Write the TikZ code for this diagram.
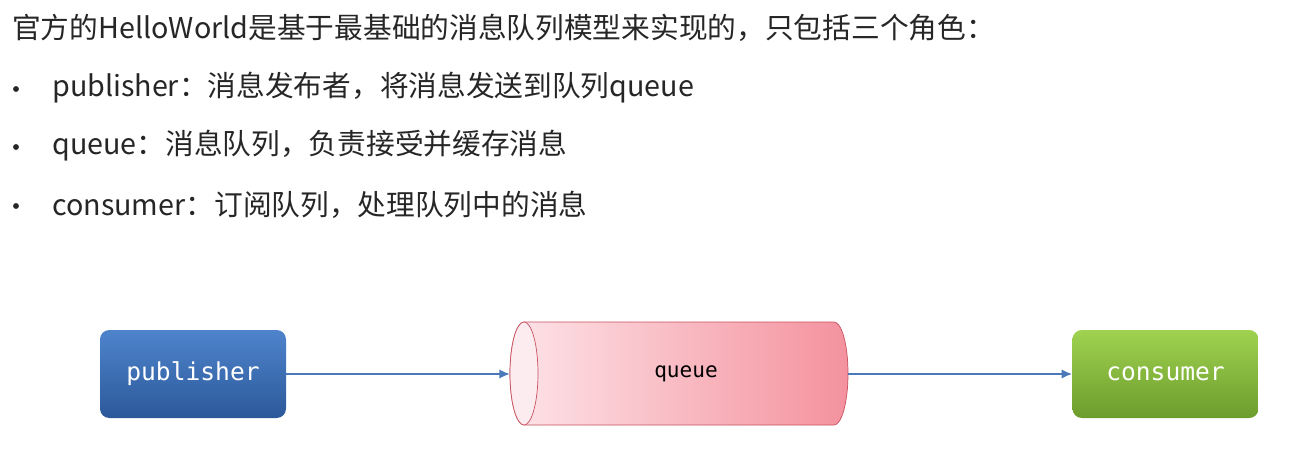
\documentclass[tikz,border=0pt]{standalone}
\usepackage{fontspec}
\setmainfont{Noto Sans CJK SC}
\newfontfamily\monof{DejaVu Sans Mono}
\begin{document}
\begin{tikzpicture}[x=0.03cm,y=-0.03cm,
  txt/.style={anchor=west,inner sep=0,font=\fontsize{24.5}{28}\selectfont,text=black!85},
  dot/.style={circle,fill=black!85,inner sep=0,minimum size=5pt},
  boxs/.style={rounded corners=8pt,minimum width=186*0.03cm,minimum height=88*0.03cm,text=white,font=\monof\fontsize{21}{24}\selectfont},
  arr/.style={draw={rgb,255:red,74;green,120;blue,184},line width=2pt,-{Latex[length=9pt,width=8pt]}}]
\usetikzlibrary{arrows.meta}
\useasboundingbox (0,0) rectangle (1289,450);
\fill[white] (0,0) rectangle (1289,450);
\node[txt] (t) at (12,28) {官方的HelloWorld是基于最基础的消息队列模型来实现的，只包括三个角色：};
\node[dot] (b1d) at (16,89) {};
\node[txt] (b1) at (52,88) {publisher：消息发布者，将消息发送到队列queue};
\node[dot] (b2d) at (16,147) {};
\node[txt] (b2) at (52,146) {queue：消息队列，负责接受并缓存消息};
\node[dot] (b3d) at (16,206) {};
\node[txt] (b3) at (52,205) {consumer：订阅队列，处理队列中的消息};
\node[boxs,top color={rgb,255:red,78;green,132;blue,204},bottom color={rgb,255:red,44;green,88;blue,154}] (pub) at (193,374) {publisher};
\node[boxs,top color={rgb,255:red,160;green,210;blue,80},bottom color={rgb,255:red,108;green,156;blue,44}] (con) at (1165.5,374) {consumer};
\path[left color={rgb,255:red,253;green,228;blue,232},right color={rgb,255:red,244;green,146;blue,158},draw={rgb,255:red,200;green,80;blue,95},line width=0.6pt]
 (524,322) -- (834,322) arc[start angle=-90,end angle=90,x radius=14,y radius=51.5] -- (524,425) arc[start angle=90,end angle=270,x radius=14,y radius=51.5] -- cycle;
\draw[fill={rgb,255:red,253;green,236;blue,239},draw={rgb,255:red,200;green,80;blue,95},line width=0.6pt] (524,373.5) ellipse[x radius=14,y radius=51.5];
\node[font=\monof\fontsize{18}{21}\selectfont] (q) at (686,374) {queue};
\coordinate (qin) at (510,374);
\coordinate (qout) at (848,374);
\draw[arr] (pub.east) -- (qin);
\draw[arr] (qout) -- (con.west);
\end{tikzpicture}
\end{document}
